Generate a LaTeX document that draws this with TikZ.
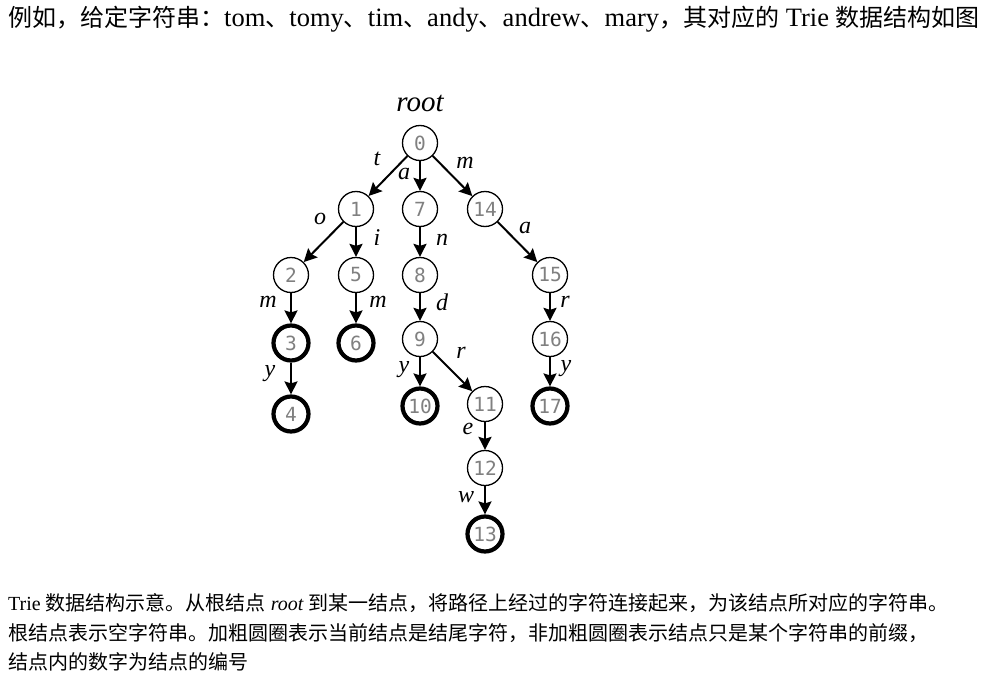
\documentclass[tikz,border=0pt]{standalone}
\usepackage{fontspec}
\setmainfont{Liberation Serif}
\newfontfamily\cjk{Noto Sans CJK SC}
\newfontfamily\monofont{DejaVu Sans Mono}
\usetikzlibrary{arrows.meta}
\definecolor{numgray}{HTML}{808080}
\newcommand\topcjk[1]{{\cjk\fontsize{24}{24}\selectfont #1}}
\tikzset{
  tnode/.style={circle, draw, line width=1.3pt, minimum size=35pt, inner sep=0pt,
    font=\monofont\fontsize{19.5}{19.5}\selectfont, text=numgray},
  endnode/.style={tnode, line width=4.2pt},
  arr/.style={line width=2pt, -{Stealth[length=13pt,width=13pt,inset=2pt]}},
  lab/.style={font=\fontsize{24}{24}\selectfont\itshape, inner sep=0pt},
  toptext/.style={anchor=base west, inner sep=0pt, font=\fontsize{26.5}{26.5}\selectfont},
  captext/.style={anchor=base west, inner sep=0pt, font=\fontsize{20}{20}\selectfont},
}
\begin{document}
\begin{tikzpicture}[x=1pt,y=-1pt]
\fill[white] (0,0) rectangle (983,680);
\useasboundingbox (0,0) rectangle (983,680);

\node[toptext] (top) at (8,26) {\topcjk{例如，给定字符串：}tom\topcjk{、}tomy\topcjk{、}tim\topcjk{、}andy\topcjk{、}andrew\topcjk{、}mary\topcjk{，其对应的} Trie \topcjk{数据结构如图}};

\node[font=\fontsize{29}{29}\selectfont\itshape, inner sep=0pt] (root) at (420,103) {root};

\node[tnode] (n0) at (420,143) {0};
\node[tnode] (n1) at (356,209) {1};
\node[tnode] (n7) at (420,209) {7};
\node[tnode] (n14) at (485,209) {14};
\node[tnode] (n2) at (291,275) {2};
\node[tnode] (n5) at (356,275) {5};
\node[tnode] (n8) at (420,275) {8};
\node[tnode] (n15) at (550,275) {15};
\node[endnode] (n3) at (291,343) {3};
\node[endnode] (n6) at (356,343) {6};
\node[tnode] (n9) at (420,339) {9};
\node[tnode] (n16) at (550,339) {16};
\node[endnode] (n4) at (291,414) {4};
\node[endnode] (n10) at (420,406) {10};
\node[tnode] (n11) at (485,404) {11};
\node[endnode] (n17) at (550,406) {17};
\node[tnode] (n12) at (485,468) {12};
\node[endnode] (n13) at (485,534) {13};

\draw[arr] (n0) -- (n1);
\draw[arr] (n0) -- (n7);
\draw[arr] (n0) -- (n14);
\draw[arr] (n1) -- (n2);
\draw[arr] (n1) -- (n5);
\draw[arr] (n7) -- (n8);
\draw[arr] (n14) -- (n15);
\draw[arr] (n2) -- (n3);
\draw[arr] (n5) -- (n6);
\draw[arr] (n8) -- (n9);
\draw[arr] (n15) -- (n16);
\draw[arr] (n3) -- (n4);
\draw[arr] (n9) -- (n10);
\draw[arr] (n9) -- (n11);
\draw[arr] (n16) -- (n17);
\draw[arr] (n11) -- (n12);
\draw[arr] (n12) -- (n13);

\node[lab] (lt) at (377,159) {t};
\node[lab] (la1) at (404,174) {a};
\node[lab] (lm1) at (465,163) {m};
\node[lab] (lo) at (320,219) {o};
\node[lab] (li) at (377,238) {i};
\node[lab] (ln) at (442,240) {n};
\node[lab] (la2) at (525,228) {a};
\node[lab] (lm2) at (268,302) {m};
\node[lab] (lm3) at (378,302) {m};
\node[lab] (ld) at (442,302) {d};
\node[lab] (lr1) at (565,302) {r};
\node[lab] (ly1) at (270,374) {y};
\node[lab] (ly2) at (404,370) {y};
\node[lab] (lr2) at (461,353) {r};
\node[lab] (ly3) at (566,369) {y};
\node[lab] (le) at (468,429) {e};
\node[lab] (lw) at (466,497) {w};

\node[captext] (c1) at (8,610) {Trie {\cjk 数据结构示意。从根结点} \textit{root} {\cjk 到某一结点，将路径上经过的字符连接起来，为该结点所对应的字符串。}};
\node[captext] (c2) at (8,640) {\cjk 根结点表示空字符串。加粗圆圈表示当前结点是结尾字符，非加粗圆圈表示结点只是某个字符串的前缀，};
\node[captext] (c3) at (8,669) {\cjk 结点内的数字为结点的编号};
\end{tikzpicture}
\end{document}
